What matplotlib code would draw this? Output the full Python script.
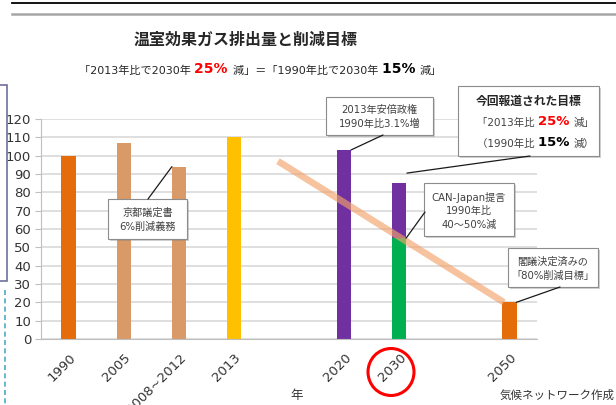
import numpy as np
import matplotlib
matplotlib.use("Agg")
import matplotlib.pyplot as plt
from matplotlib.patches import Rectangle, Ellipse, ConnectionPatch
from matplotlib.text import Annotation
from matplotlib.lines import Line2D
import matplotlib.transforms as mtransforms

plt.rcParams['font.family'] = ['DejaVu Sans', 'Noto Sans CJK JP']

# ---------------- data ----------------
categories = ['1990', '2005', '2008~2012', '2013', '', '2020', '2030', '', '2050']
emissions = [100, 107, 94, 110, np.nan, 103.1, 55, np.nan, 20]   # index, 1990 = 100
govt_target_2030 = 85        # 1990比15%減 (purple part on top of the 2030 bar)
bar_colors = ['#E46C0A', '#DA9A68', '#DA9A68', '#FFC000', None,
              '#7030A0', '#00B050', None, '#E46C0A']
target_color = '#7030A0'
path_x = [3.8, 7.9]           # reduction path (orange line)
path_y = [97, 20]
yticks = list(range(0, 121, 10))

W, H = 616, 405
fig = plt.figure(figsize=(W / 100, H / 100), dpi=100)
fig.patch.set_facecolor('white')


def fx(px):
    return px / W


def fy(py):
    return 1 - py / H


ax = fig.add_axes([fx(41), fy(339), (537 - 41) / W, (339 - 119) / H])
ax.set_xlim(-0.5, len(categories) - 0.5)
ax.set_ylim(0, 120)

pos = np.arange(len(categories))
for i, (v, c) in enumerate(zip(emissions, bar_colors)):
    if np.isnan(v):
        continue
    ax.bar(pos[i], v, width=0.26, color=c, zorder=2)
i2030 = categories.index('2030')
ax.bar(pos[i2030], govt_target_2030 - emissions[i2030], bottom=emissions[i2030],
       width=0.26, color=target_color, zorder=2)

ax.plot(path_x, path_y, color='#F2A36B', lw=4.8, alpha=0.65,
        solid_capstyle='butt', zorder=3)

ax.set_yticks(yticks)
ax.yaxis.grid(True, color='#D9D9D9', lw=1.2)
ax.set_axisbelow(True)
for s in ['top', 'right']:
    ax.spines[s].set_visible(False)
for s in ['left', 'bottom']:
    ax.spines[s].set_color('#BFBFBF')
ax.tick_params(axis='y', length=4, color='#BFBFBF', pad=3, labelsize=9.5,
               labelcolor='#333333')
tick_idx = [i for i, c in enumerate(categories) if c]
ax.set_xticks(pos[tick_idx])
ax.set_xticklabels([categories[i] for i in tick_idx], rotation=45, ha='right',
                   va='center', rotation_mode='anchor', fontsize=9.5,
                   color='#333333')
ax.tick_params(axis='x', length=0, pad=12)
off = mtransforms.ScaledTranslation(0.05, 0, fig.dpi_scale_trans)
for lab in ax.get_xticklabels():
    lab.set_transform(lab.get_transform() + off)

# ---------------- titles ----------------
fig.text(fx(246), fy(40), '温室効果ガス排出量と削減目標', ha='center', va='center',
         fontsize=11.5, fontweight='bold', color='#262626',
         family=['Noto Sans CJK JP'])


def rich(x_px, y_px, pieces, zorder=6):
    prev = None
    for s, props in pieces:
        if prev is None:
            t = fig.text(fx(x_px), fy(y_px), s, ha='left', va='bottom',
                         zorder=zorder, **props)
        else:
            t = Annotation(s, xy=(1, 0), xycoords=prev, xytext=(0, 0),
                           textcoords='offset points', ha='left', va='bottom',
                           zorder=zorder, annotation_clip=False, **props)
            fig.add_artist(t)
        prev = t
    return prev


norm = dict(fontsize=8, color='#262626')
rich(79, 76, [('「2013年比で2030年 ', norm),
              ('25% ', dict(fontsize=10, color='red', fontweight='bold')),
              ('減」＝「1990年比で2030年 ', norm),
              ('15% ', dict(fontsize=10, color='black', fontweight='bold')),
              ('減」', norm)])

# ---------------- callout boxes ----------------


def box(x0, y0, x1, y1):
    fig.add_artist(Rectangle((fx(x0 + 2), fy(y1 + 2)), (x1 - x0) / W, (y1 - y0) / H,
                             transform=fig.transFigure, facecolor='#7F7F7F',
                             alpha=0.35, edgecolor='none', zorder=2))
    fig.add_artist(Rectangle((fx(x0), fy(y1)), (x1 - x0) / W, (y1 - y0) / H,
                             transform=fig.transFigure, facecolor='white',
                             edgecolor='#8C8C8C', lw=0.8, zorder=3))


def leader(px, py, x, v):
    fig.add_artist(ConnectionPatch(xyA=(fx(px), fy(py)), coordsA=fig.transFigure,
                                   xyB=(x, v), coordsB=ax.transData,
                                   color='#1a1a1a', lw=0.9, zorder=4))


def box_text(cx, cy, s, fs=7.3):
    fig.text(fx(cx), fy(cy), s, ha='center', va='center', fontsize=fs,
             color='#404040', linespacing=1.45, zorder=6)


i0812 = categories.index('2008~2012')
i2020 = categories.index('2020')
i2050 = categories.index('2050')

box(108, 199, 187, 239)
box_text(147.5, 220, '京都議定書\n6%削減義務')
leader(148, 199, pos[i0812] - 0.125, emissions[i0812])

box(326, 97, 433, 135)
box_text(379.5, 117, '2013年安倍政権\n1990年比3.1%増')
leader(383, 135, pos[i2020] + 0.125, emissions[i2020])

box(458, 86, 599, 156)
fig.text(fx(528.5), fy(101), '今回報道された目標', ha='center', va='center',
         fontsize=8.5, fontweight='bold', color='#262626', zorder=6,
         family=['Noto Sans CJK JP'])
bnorm = dict(fontsize=7.5, color='#404040')
rich(477, 128, [('「2013年比 ', bnorm),
                ('25% ', dict(fontsize=9.5, color='red', fontweight='bold')),
                ('減」', bnorm)])
rich(477, 149, [('（1990年比 ', bnorm),
                ('15% ', dict(fontsize=9.5, color='black', fontweight='bold')),
                ('減）', bnorm)])
leader(530, 156, pos[i2030] + 0.14, 90.5)

box(424, 183, 514, 236)
box_text(469, 211, 'CAN-Japan提言\n1990年比\n40～50%減')
leader(425, 212, pos[i2030] + 0.125, emissions[i2030])

box(508, 248, 598, 287)
box_text(553, 269, '閣議決定済みの\n「80%削減目標」')
leader(560, 287, pos[i2050] + 0.125, emissions[i2050])

# red circle around 2030 label
fig.add_artist(Ellipse((fx(391), fy(372)), 46 / W, 47 / H, transform=fig.transFigure,
                       fill=False, edgecolor='red', lw=2.2, zorder=5))

# axis title and credit
fig.text(fx(297), fy(395), '年', ha='center', va='center', fontsize=9,
         color='#333333', family=['Noto Sans CJK JP'])
fig.text(fx(500), fy(395), '気候ネットワーク作成', ha='left', va='center',
         fontsize=8.3, color='#333333', family=['Noto Sans CJK JP'])

# screenshot frame decorations
fig.add_artist(Line2D([fx(12), 1], [fy(3), fy(3)], transform=fig.transFigure,
                      color='black', lw=1.3))
fig.add_artist(Line2D([fx(12), 1], [fy(14), fy(14)], transform=fig.transFigure,
                      color='#A6A6A6', lw=1.8))
fig.add_artist(Rectangle((fx(-5), fy(281)), 12 / W, (281 - 85) / H,
                         transform=fig.transFigure, fill=False,
                         edgecolor='#6E6E9E', lw=1.2))
fig.add_artist(Line2D([fx(5), fx(5)], [fy(290), 0], transform=fig.transFigure,
                      color='#4BACC6', lw=1.2, ls=(0, (3, 2))))

fig.savefig('out.png', dpi=100)
